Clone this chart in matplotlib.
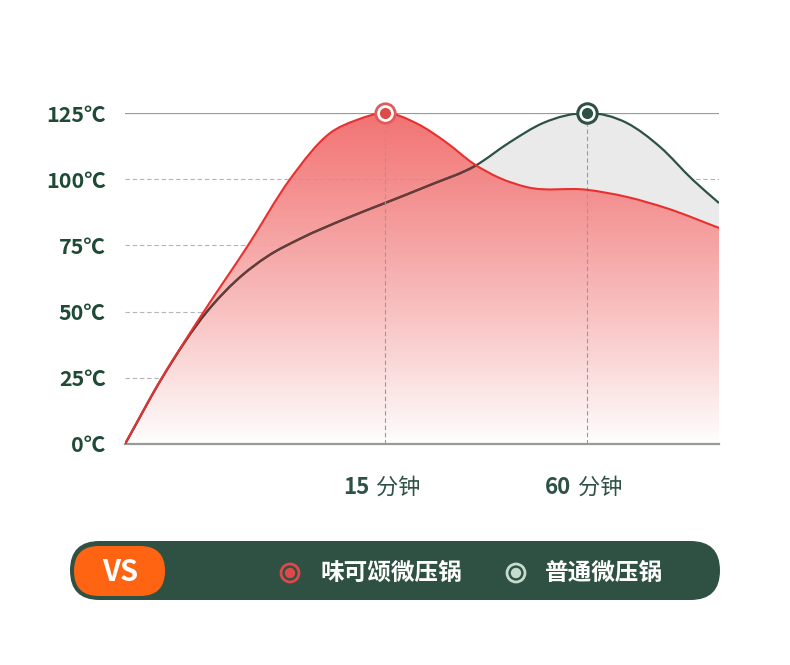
import numpy as np
import matplotlib
matplotlib.use('Agg')
import matplotlib.pyplot as plt
from matplotlib.path import Path
from matplotlib.patches import PathPatch, FancyBboxPatch, Circle
from matplotlib.transforms import blended_transform_factory, offset_copy

plt.rcParams['font.family'] = ['Noto Sans CJK SC', 'DejaVu Sans']

# ---------------- data ----------------
x_red = [0, 6.23, 13.13, 20.71, 27.78, 34.51, 39.06, 43.77, 49.16, 54.21,
         58.59, 63.13, 67.68, 77.78, 84.51, 91.25, 100]
temp_red = [0, 25, 49.5, 75, 100, 117.4, 122.4, 125, 121, 113.7,
            106, 100.4, 97, 96, 93.3, 89, 81.6]
x_gray = [0, 6.23, 13.80, 18.86, 24.07, 29.46, 37.37, 43.77, 51.35, 58.92,
          64.81, 70.37, 77.78, 84.51, 90.07, 95.62, 100]
temp_gray = [0, 25, 50, 62, 71, 77.5, 85.3, 91, 97.8, 105,
             114, 121.2, 125, 121.2, 112.2, 99.7, 91]
y_ticks = [0, 25, 50, 75, 100, 125]
y_labels = ['0℃', '25℃', '50℃', '75℃', '100℃', '125℃']
x_ticks = [43.77, 77.78]
x_numbers = ['15', '60']
x_unit = '分钟'
series_names = ['味可颂微压锅', '普通微压锅']
peak_red = (43.77, 125)
peak_gray = (77.78, 125)

RED = '#e8302f'
GREEN = '#2d5145'
TXT = '#1f4a36'


def smooth_path(xs, ys, close_to_zero=False):
    xs = np.asarray(xs, float)
    ys = np.asarray(ys, float)
    n = len(xs)
    h = np.diff(xs)
    d = np.diff(ys) / h
    m = np.zeros(n)
    m[0] = d[0]
    m[-1] = d[-1]
    for i in range(1, n - 1):
        if d[i - 1] * d[i] <= 0:
            m[i] = 0
        else:
            m[i] = (d[i - 1] * h[i] + d[i] * h[i - 1]) / (h[i] + h[i - 1])
    verts = [(xs[0], ys[0])]
    codes = [Path.MOVETO]
    for i in range(n - 1):
        hh = h[i]
        verts += [(xs[i] + hh / 3, ys[i] + m[i] * hh / 3),
                  (xs[i + 1] - hh / 3, ys[i + 1] - m[i + 1] * hh / 3),
                  (xs[i + 1], ys[i + 1])]
        codes += [Path.CURVE4] * 3
    if close_to_zero:
        verts += [(xs[-1], 0), (xs[0], 0), (xs[0], ys[0])]
        codes += [Path.LINETO, Path.LINETO, Path.CLOSEPOLY]
    return Path(verts, codes)


fig = plt.figure(figsize=(7.9, 6.65), dpi=100)
ax = fig.add_axes([125 / 790, 221 / 665, 594 / 790, 331 / 665])
ax.set_xlim(0, 100)
ax.set_ylim(0, 125)

# grid
for t in y_ticks[1:-1]:
    ax.axhline(t, color='#b5b5b5', lw=0.8, ls=(0, (4, 2.5)), zorder=0.5)
ax.axhline(125, color='#9a9a9a', lw=1.6, zorder=0.6)
for xt in x_ticks:
    ax.axvline(xt, color='#9a9a9a', lw=0.8, ls=(0, (4, 2.5)), zorder=3.5)

# gray area
gray_fill = PathPatch(smooth_path(x_gray, temp_gray, True), fc='#eaeaea', ec='none', zorder=1)
ax.add_patch(gray_fill)

# red gradient area
red_patch = PathPatch(smooth_path(x_red, temp_red, True), fc='none', ec='none', zorder=2)
ax.add_patch(red_patch)
N = 256
tt = np.linspace(0, 1, N)
top = np.array([241, 96, 96]) / 255
bot = np.array([255, 255, 255]) / 255
rgba = np.zeros((N, 1, 4))
for i, v in enumerate(tt):
    rgba[i, 0, :3] = bot + (top - bot) * v
    rgba[i, 0, 3] = 1.0 - 0.12 * v
im = ax.imshow(rgba, extent=[0, 100, 0, 125], origin='lower', aspect='auto', zorder=2,
               interpolation='bilinear')
im.set_clip_path(red_patch)

# lines
gp = smooth_path(x_gray, temp_gray)
ax.add_patch(PathPatch(gp, fc='none', ec=GREEN, lw=1.6, zorder=3))
inner = PathPatch(gp, fc='none', ec='#6a3a38', lw=1.6, zorder=3.1)
ax.add_patch(inner)
inner.set_clip_path(red_patch)
ax.add_patch(PathPatch(smooth_path(x_red, temp_red), fc='none', ec=RED, lw=1.5, zorder=4))

# peak markers
ax.scatter([peak_red[0]], [peak_red[1]], s=14 ** 2, facecolor='white', edgecolor='#e25a5a',
           linewidth=2.0, zorder=6, clip_on=False)
ax.scatter([peak_red[0]], [peak_red[1]], s=7 ** 2, color='#dd4a4a', zorder=7, clip_on=False)
ax.scatter([peak_gray[0]], [peak_gray[1]], s=14 ** 2, facecolor='white', edgecolor=GREEN,
           linewidth=2.2, zorder=6, clip_on=False)
ax.scatter([peak_gray[0]], [peak_gray[1]], s=7 ** 2, color=GREEN, zorder=7, clip_on=False)

# axes styling
for s in ['top', 'right', 'left']:
    ax.spines[s].set_visible(False)
ax.spines['bottom'].set_color('#9a9a9a')
ax.spines['bottom'].set_linewidth(1.6)
ax.set_yticks(y_ticks)
ax.set_yticklabels(y_labels, fontsize=15.5, fontweight='bold', color=TXT)
ax.tick_params(axis='y', length=0, pad=14)
ax.set_xticks([])

# x labels (number bold + unit regular)
trans = blended_transform_factory(ax.transData, ax.transAxes)
for xt, num in zip(x_ticks, x_numbers):
    t1 = offset_copy(trans, fig=fig, x=-16, y=-43, units='dots')
    t2 = offset_copy(trans, fig=fig, x=-9, y=-43, units='dots')
    ax.text(xt, 0, num, transform=t1, ha='right', va='center', fontsize=16,
            fontweight='bold', color=GREEN)
    ax.text(xt, 0, x_unit, transform=t2, ha='left', va='center', fontsize=16,
            color=GREEN)

# legend bar overlay
ov = fig.add_axes([0, 0, 1, 1], zorder=10)
ov.set_xlim(0, 790)
ov.set_ylim(665, 0)
ov.axis('off')
ov.patch.set_alpha(0)
ov.add_patch(FancyBboxPatch((70, 541), 650, 59, boxstyle='round,pad=0,rounding_size=29.5',
                            fc='#2f5144', ec='none'))
ov.add_patch(FancyBboxPatch((74, 546), 91, 50, boxstyle='round,pad=0,rounding_size=25',
                            fc='#ff6413', ec='none'))
ov.text(120, 572, 'VS', ha='center', va='center', fontsize=21, fontweight='bold',
        color='white')
legend_colors = ['#e04848', '#c6dbcd']
legend_mx = [290, 516]
legend_tx = [320, 545]
for name, c, mx, tx in zip(series_names, legend_colors, legend_mx, legend_tx):
    ov.add_patch(Circle((mx, 573), 9, fc='none', ec=c, lw=2.0))
    ov.add_patch(Circle((mx, 573), 5.2, fc=c, ec='none'))
    ov.text(tx, 573, name, ha='left', va='center', fontsize=17, fontweight='bold',
            color='white')

fig.savefig('out.png', dpi=100, facecolor='white')
